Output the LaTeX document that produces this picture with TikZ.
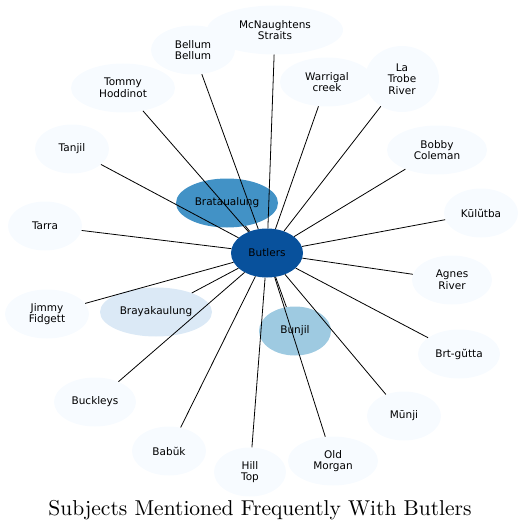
\documentclass[tikz,border=0pt]{standalone}
\usepackage{fontspec}
\newfontfamily\labelfont{DejaVu Sans}
\newfontfamily\titlefont{lmroman10-regular.otf}
\usepackage{tikz}
\usetikzlibrary{
  shapes.geometric,
  positioning
}
\definecolor{BlueDark}{HTML}{08519C}
\definecolor{BlueMid}{HTML}{4292C6}
\definecolor{BlueSoft}{HTML}{9ECAE1}
\definecolor{BluePale}{HTML}{DBE9F6}
\definecolor{BlueLeaf}{HTML}{F7FBFF}
\tikzset{
    subject/.style={ellipse, fill=BlueLeaf, inner sep=0pt, align=center,
        font=\labelfont\fontsize{10.5}{11.7}\selectfont,
        minimum width=74pt, minimum height=49pt},
    link/.style={draw=black, line width=0.8pt}
}

\begin{document}
\begin{tikzpicture}[x=1pt, y=-1pt]
    \useasboundingbox (0,0) rectangle (523,532);
    % nodes
    \node[subject, minimum width=136pt] (mcnaughtens) at (275,30) {McNaughtens\\Straits};
    \node[subject, minimum width=84pt] (bellum) at (193,50) {Bellum\\Bellum};
    \node[subject, minimum width=104pt] (tommy) at (123,88) {Tommy\\Hoddinot};
    \node[subject, minimum width=94pt] (warrigal) at (327,82) {Warrigal\\creek};
    \node[subject, minimum height=66pt] (latrobe) at (402,79) {La\\Trobe\\River};
    \node[subject] (tanjil) at (72,149) {Tanjil};
    \node[subject, minimum width=100pt] (bobby) at (437,150) {Bobby\\Coleman};
    \node[subject, fill=BlueMid, minimum width=102pt] (brataualung) at (227,203) {Brataualung};
    \node[subject] (kulutba) at (481,213) {Kūlŭtba};
    \node[subject] (tarra) at (45,226) {Tarra};
    \node[subject, fill=BlueDark, minimum width=72pt] (butlers) at (267,253) {Butlers};
    \node[subject, minimum width=80pt] (agnes) at (452,280) {Agnes\\River};
    \node[subject, minimum width=84pt] (jimmy) at (47,314) {Jimmy\\Fidgett};
    \node[subject, fill=BluePale, minimum width=112pt] (brayakaulung) at (156,312) {Brayakaulung};
    \node[subject, fill=BlueSoft, minimum width=72pt] (bunjil) at (295,331) {Bunjil};
    \node[subject, minimum width=82pt] (brtgutta) at (459,354) {Brt-gŭtta};
    \node[subject, minimum width=82pt] (buckleys) at (95,402) {Buckleys};
    \node[subject] (munji) at (404,416) {Mūnji};
    \node[subject] (babuk) at (169,451) {Babŭk};
    \node[subject, minimum width=72pt] (hilltop) at (250,472) {Hill\\Top};
    \node[subject, minimum width=90pt] (oldmorgan) at (333,461) {Old\\Morgan};
    % edges
    \foreach \other in {mcnaughtens, bellum, tommy, warrigal, latrobe, tanjil, bobby,
        brataualung, kulutba, tarra, agnes, jimmy, brayakaulung, bunjil, brtgutta,
        buckleys, munji, babuk, hilltop, oldmorgan}
        \draw[link] (butlers) -- (\other);
    % title
    \node[font=\titlefont\fontsize{21.5}{25}\selectfont] (title) at (260,510) {Subjects Mentioned Frequently With Butlers};
\end{tikzpicture}
\end{document}
